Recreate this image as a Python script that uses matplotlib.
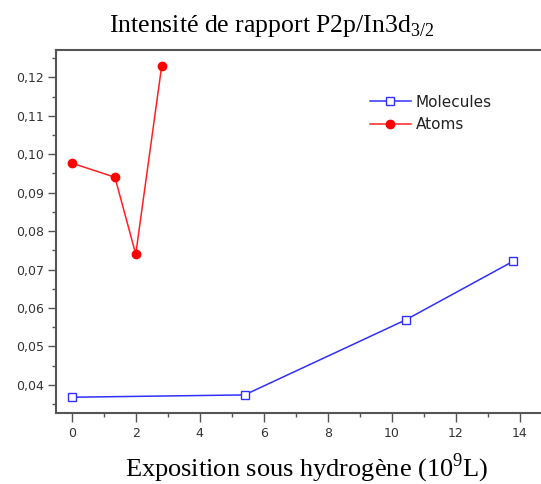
import matplotlib
matplotlib.use("Agg")
import matplotlib.pyplot as plt
import matplotlib.ticker as tic

plt.rcParams["mathtext.fontset"] = "custom"
plt.rcParams["mathtext.rm"] = "Liberation Serif"

# données
mol_x = [0.0, 5.4, 10.43, 13.8]
mol_y = [0.0368, 0.0374, 0.0569, 0.0722]
atom_x = [0.0, 1.35, 2.0, 2.81]
atom_y = [0.0977, 0.0940, 0.0740, 0.1229]

fig = plt.figure(figsize=(5.41, 4.84), dpi=100)
ax = fig.add_axes([0.1030, 0.1467, 0.8970, 0.75])

ax.plot(mol_x, mol_y, ls="-", lw=1.1, color="#3030ff", marker="s", ms=5.5,
        mfc="white", mec="#3030ff", mew=1.0, label="Molecules")
ax.plot(atom_x, atom_y, ls="-", lw=1.1, color="#ff2020", marker="o", ms=6,
        mfc="#ff0000", mec="#ff0000", label="Atoms")

ax.set_xlim(-0.5, 14.66)
ax.set_ylim(0.0327, 0.1271)

ax.xaxis.set_major_locator(tic.MultipleLocator(2))
ax.xaxis.set_minor_locator(tic.MultipleLocator(1))
ax.yaxis.set_major_locator(tic.MultipleLocator(0.01))
ax.yaxis.set_minor_locator(tic.MultipleLocator(0.005))
ax.yaxis.set_major_formatter(tic.FuncFormatter(lambda v, p: "{:.2f}".format(v).replace(".", ",")))

for s in ["left", "bottom", "top"]:
    ax.spines[s].set_color("#555555")
    ax.spines[s].set_linewidth(1.5)
ax.spines["right"].set_visible(False)

ax.tick_params(which="major", direction="out", length=6, width=1, color="#555555",
               labelsize=9, labelcolor="#333333")
ax.tick_params(axis="y", which="major", pad=2.5)
ax.tick_params(axis="x", which="major", length=6.5, pad=3.5)
ax.tick_params(which="minor", direction="out", length=3, width=1, color="#555555")
for lab in ax.get_xticklabels() + ax.get_yticklabels():
    lab.set_family("DejaVu Sans")

leg = ax.legend(loc="upper left", bbox_to_anchor=(0.619, 0.915), frameon=False,
                prop={"family": "DejaVu Sans", "size": 11}, handlelength=2.7,
                handletextpad=0.3, labelspacing=0.5, labelcolor="#222222")

fig.text(0.502, 0.934, r"Intensité de rapport P2p/In3d$_{\mathrm{3/2}}$", ha="center",
         va="baseline", family="Liberation Serif", fontsize=18.5)
fig.text(0.5665, 0.015, r"Exposition sous hydrogène (10$^{\mathrm{9}}$L)", ha="center",
         va="baseline", family="Liberation Serif", fontsize=19)

fig.savefig("out.png", dpi=100)
